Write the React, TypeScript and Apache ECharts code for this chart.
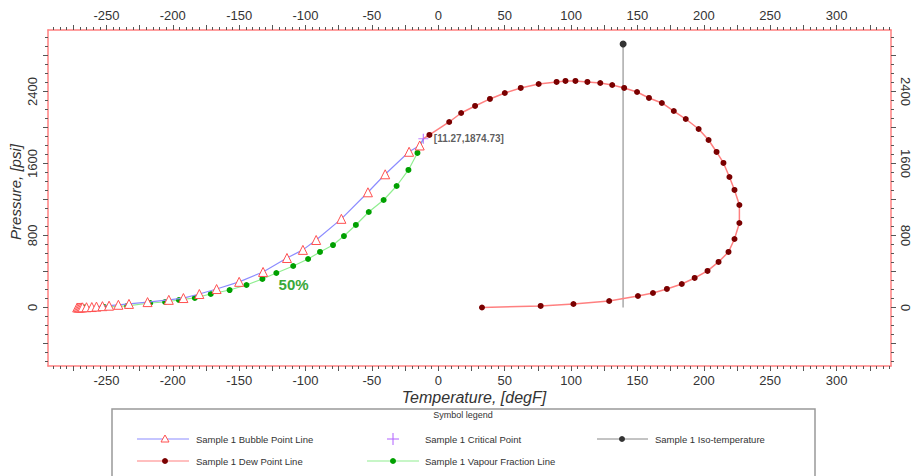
import React, { useEffect, useRef } from "react";
import * as echarts from "echarts";

// ---- data ----
const bubbleT = [-272, -271, -270, -269, -268, -265, -261, -257.5, -253, -248, -241, -233, -219, -203, -192, -180, -167, -150, -132, -114, -102, -92, -73, -53, -40, -22, -14, -11.27];
const bubbleP = [0, 0, 0, 1, 2, 3, 5, 10, 15, 20, 30, 40, 60, 85, 105, 150, 205, 285, 395, 550, 640, 750, 985, 1280, 1480, 1730, 1800, 1874.73];

const dewT = [-11.27, -6.7, 8.2, 17.2, 27.7, 38.9, 50.1, 62.1, 75.6, 89.1, 95.8, 103.3, 112.3, 122.0, 131.0, 140.0, 149.7, 158.7, 168.4, 177.4, 186.4, 196.1, 203.6, 209.6, 214.8, 219.3, 223.1, 226.8, 226.8, 223.1, 218.6, 211.1, 202.8, 193.1, 183.4, 172.2, 161.7, 150.4, 128.7, 101.8, 77.1, 32.9];
const dewP = [1874.73, 1917, 2061, 2161, 2239, 2317, 2383, 2439, 2483, 2506, 2517, 2517, 2506, 2494, 2472, 2439, 2394, 2328, 2272, 2183, 2094, 1983, 1861, 1728, 1606, 1450, 1306, 1139, 939, 761, 617, 506, 406, 328, 261, 206, 161, 128, 72, 39, 17, 0];

const vapT = [-266.5, -251.5, -234.3, -217, -205.8, -195.4, -183.4, -171.4, -157.2, -144.5, -132.5, -122, -109.3, -98.1, -89.1, -79.3, -71.1, -62.1, -52.4, -41.2, -31.4, -22.5, -15.7, -11.27];
const vapP = [0, 5, 17, 50, 61, 83, 106, 150, 194, 250, 317, 383, 461, 539, 617, 694, 794, 917, 1061, 1194, 1350, 1528, 1717, 1874.73];

const critT = -11.27;
const critP = 1874.73;
const critLabel = "[11.27,1874.73]";

const isoT = [139.2, 139.2];
const isoP = [0, 2928];

const fractionLabel = "50%";
const fractionAt = [-109, 260];

const xLabels = [-250, -200, -150, -100, -50, 0, 50, 100, 150, 200, 250, 300];
const yLabels = [0, 800, 1600, 2400];

const X_MIN = -294, X_MAX = 341, Y_MIN = -650, Y_MAX = 3083;

const range = (a: number, b: number, s: number) => {
  const r: number[] = [];
  for (let v = a; v <= b + 1e-9; v += s) r.push(v);
  return r;
};
const xMajorTicks = range(-275, 325, 25);
const xMinorTicks = range(-290, 340, 5);
const yMajorTicks = range(-400, 2800, 400);
const yMinorTicks = range(-600, 3000, 100);

const AXIS_RED = "#ff8080";
const TICK = "#555";
const LABEL = "#333";
const FONT = "Liberation Sans, Arial, sans-serif";
const plain = (v: number) => String(v);

function xAxisPair(position: "top" | "bottom") {
  const base = { type: "value", position, min: X_MIN, max: X_MAX, splitLine: { show: false } };
  return [
    {
      ...base,
      axisLine: { show: true, onZero: false, lineStyle: { color: AXIS_RED, width: 1.5 } },
      axisTick: { show: true, length: 5, customValues: xMajorTicks, lineStyle: { color: TICK } },
      axisLabel: { show: true, customValues: xLabels, formatter: plain, margin: 8, color: LABEL, fontSize: 13, fontFamily: FONT },
    },
    {
      ...base,
      axisLine: { show: false, onZero: false },
      axisTick: { show: true, length: 3, customValues: xMinorTicks, lineStyle: { color: TICK } },
      axisLabel: { show: false },
    },
  ];
}

function yAxisPair(position: "left" | "right") {
  const base = { type: "value", position, min: Y_MIN, max: Y_MAX, splitLine: { show: false } };
  return [
    {
      ...base,
      axisLine: { show: true, onZero: false, lineStyle: { color: AXIS_RED, width: 1.5 } },
      axisTick: { show: true, length: 5, customValues: yMajorTicks, lineStyle: { color: TICK } },
      axisLabel: {
        show: true,
        customValues: yLabels,
        formatter: plain,
        rotate: position === "left" ? 90 : -90,
        margin: position === "left" ? 9 : 8,
        color: LABEL,
        fontSize: 13,
        fontFamily: FONT,
      },
    },
    {
      ...base,
      axisLine: { show: false, onZero: false },
      axisTick: { show: true, length: 3, customValues: yMinorTicks, lineStyle: { color: TICK } },
      axisLabel: { show: false },
    },
  ];
}

const zip = (a: number[], b: number[]) => a.map((v, i) => [v, b[i]]);

export default function App() {
  const ref = useRef<HTMLDivElement>(null);
  useEffect(() => {
    if (!ref.current) return;
    const chart = echarts.init(ref.current, undefined, { renderer: "svg" });

    const bubbleData = zip(bubbleT, bubbleP).map((p, i, arr) =>
      i === arr.length - 1 ? { value: p, symbol: "none" } : { value: p }
    );
    const dewData = zip(dewT, dewP).map((p, i) => (i === 0 ? { value: p, symbol: "none" } : { value: p }));
    const vapData = zip(vapT, vapP).map((p, i, arr) =>
      i === arr.length - 1 ? { value: p, symbol: "none" } : { value: p }
    );
    const isoData = zip(isoT, isoP).map((p, i) => (i === 0 ? { value: p, symbol: "none" } : { value: p }));

    const legendY1 = 439, legendY2 = 461;
    const txt = (x: number, y: number, s: string) => ({
      type: "text",
      x,
      y,
      style: { text: s, fill: "#333", font: `9.5px ${FONT}`, verticalAlign: "middle", align: "left" },
    });

    chart.setOption({
      animation: false,
      backgroundColor: "#fff",
      grid: { left: 48, right: 15, top: 30, bottom: 110, containLabel: false },
      xAxis: [...xAxisPair("bottom"), ...xAxisPair("top")],
      yAxis: [...yAxisPair("left"), ...yAxisPair("right")],
      series: [
        {
          name: "Sample 1 Iso-temperature",
          type: "line",
          data: isoData,
          symbol: "circle",
          symbolSize: 7,
          lineStyle: { color: "#aaaaaa", width: 1.5 },
          itemStyle: { color: "#333333" },
          z: 2,
        },
        {
          name: "Sample 1 Vapour Fraction Line",
          type: "line",
          data: vapData,
          symbol: "circle",
          symbolSize: 6,
          lineStyle: { color: "#90ee90", width: 1.2 },
          itemStyle: { color: "#00a000" },
          markPoint: {
            symbol: "circle",
            symbolSize: 0,
            label: {
              show: true,
              formatter: fractionLabel,
              color: "#3aa83a",
              fontSize: 15,
              fontWeight: "bold",
              fontFamily: FONT,
            },
            data: [{ coord: fractionAt }],
          },
          z: 3,
        },
        {
          name: "Sample 1 Bubble Point Line",
          type: "line",
          data: bubbleData,
          symbol: "triangle",
          symbolSize: 9,
          lineStyle: { color: "#8c8cff", width: 1.2 },
          itemStyle: { color: "#ffffff", borderColor: "#ff5050", borderWidth: 1 },
          z: 4,
        },
        {
          name: "Sample 1 Dew Point Line",
          type: "line",
          data: dewData,
          symbol: "circle",
          symbolSize: 6,
          lineStyle: { color: "#ff8080", width: 1.5 },
          itemStyle: { color: "#7a0000" },
          z: 4,
        },
        {
          name: "Sample 1 Critical Point",
          type: "scatter",
          data: [[critT, critP]],
          symbol: "path://M5,0L5,10M0,5L10,5",
          symbolSize: 10,
          itemStyle: { color: "none", borderColor: "#b060ff", borderWidth: 1.2 },
          label: {
            show: true,
            formatter: critLabel,
            position: "right",
            distance: 3,
            color: "#333",
            fontSize: 10,
            fontWeight: "bold",
            fontFamily: FONT,
          },
          z: 5,
        },
      ],
      graphic: [
        {
          type: "text",
          x: 15,
          y: 192,
          rotation: Math.PI / 2,
          style: {
            text: "Pressure, [psi]",
            fill: "#333",
            font: `italic 15px ${FONT}`,
            align: "center",
            verticalAlign: "middle",
          },
        },
        {
          type: "text",
          x: 474,
          y: 397,
          style: {
            text: "Temperature, [degF]",
            fill: "#333",
            font: `italic 16px ${FONT}`,
            align: "center",
            verticalAlign: "middle",
          },
        },
        {
          type: "rect",
          shape: { x: 112, y: 409, width: 703, height: 90 },
          style: { fill: "#fff", stroke: "#999", lineWidth: 1.5 },
        },
        {
          type: "text",
          x: 463,
          y: 415,
          style: { text: "Symbol legend", fill: "#333", font: `9px ${FONT}`, align: "center", verticalAlign: "middle" },
        },
        // bubble
        { type: "line", shape: { x1: 137, y1: legendY1, x2: 189, y2: legendY1 }, style: { stroke: "#8c8cff", lineWidth: 1.2 } },
        {
          type: "polygon",
          shape: { points: [[165, legendY1 - 4], [161, legendY1 + 3], [169, legendY1 + 3]] },
          style: { fill: "#fff", stroke: "#ff5050", lineWidth: 1 },
        },
        txt(196, legendY1, "Sample 1 Bubble Point Line"),
        // critical
        { type: "line", shape: { x1: 393, y1: legendY1 - 6, x2: 393, y2: legendY1 + 6 }, style: { stroke: "#b060ff", lineWidth: 1 } },
        { type: "line", shape: { x1: 387, y1: legendY1, x2: 399, y2: legendY1 }, style: { stroke: "#b060ff", lineWidth: 1 } },
        txt(425, legendY1, "Sample 1 Critical Point"),
        // iso
        { type: "line", shape: { x1: 597, y1: legendY1, x2: 648, y2: legendY1 }, style: { stroke: "#888", lineWidth: 1 } },
        { type: "circle", shape: { cx: 622, cy: legendY1, r: 3 }, style: { fill: "#333" } },
        txt(655, legendY1, "Sample 1 Iso-temperature"),
        // dew
        { type: "line", shape: { x1: 137, y1: legendY2, x2: 189, y2: legendY2 }, style: { stroke: "#ff8080", lineWidth: 1.2 } },
        { type: "circle", shape: { cx: 165, cy: legendY2, r: 3 }, style: { fill: "#7a0000" } },
        txt(196, legendY2, "Sample 1 Dew Point Line"),
        // vapour
        { type: "line", shape: { x1: 367, y1: legendY2, x2: 419, y2: legendY2 }, style: { stroke: "#90ee90", lineWidth: 1.2 } },
        { type: "circle", shape: { cx: 393, cy: legendY2, r: 3 }, style: { fill: "#00a000" } },
        txt(425, legendY2, "Sample 1 Vapour Fraction Line"),
      ],
    });
    return () => chart.dispose();
  }, []);
  return <div ref={ref} style={{ position: "fixed", left: 0, top: 0, width: 912, height: 476 }} />;
}
